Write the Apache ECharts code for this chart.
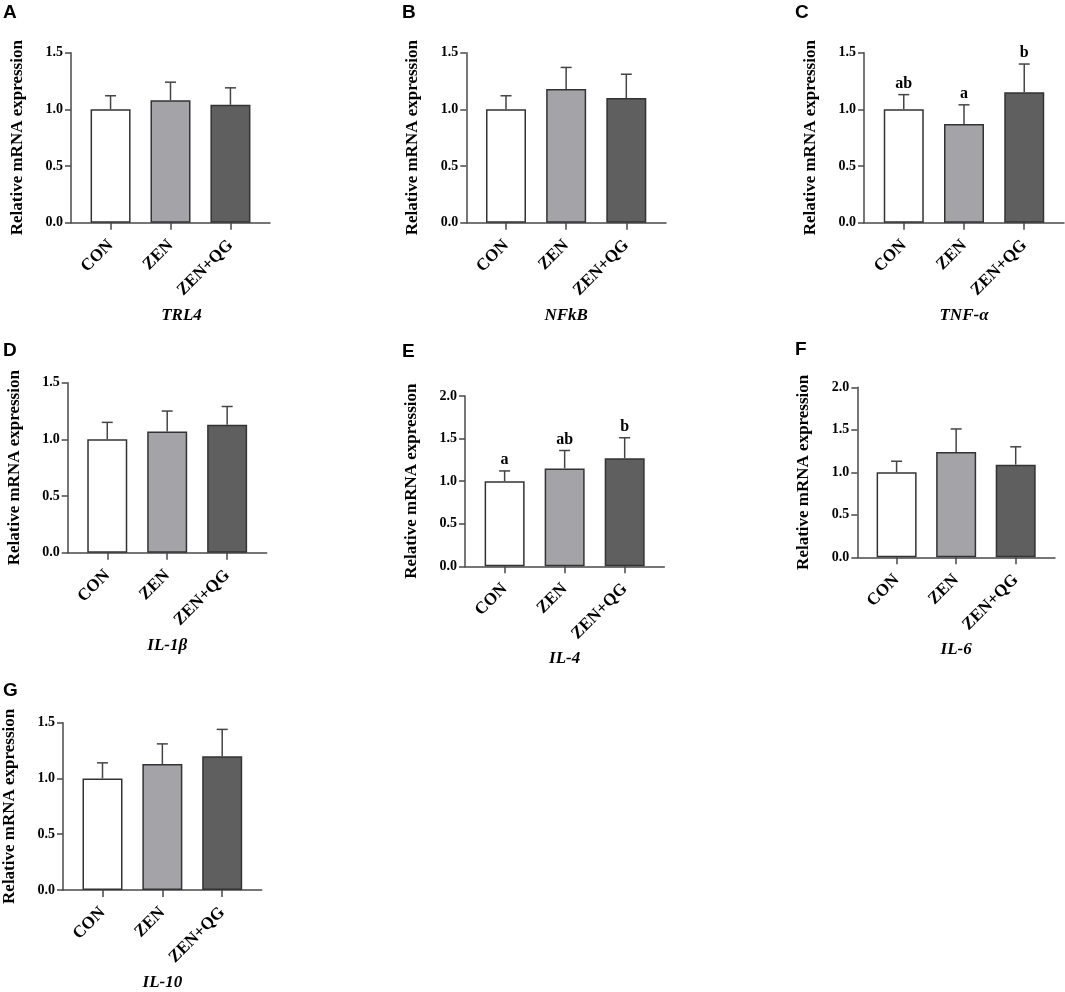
<!DOCTYPE html>
<html>
<head>
<meta charset="utf-8">
<script src="https://cdn.jsdelivr.net/npm/echarts@6/dist/echarts.min.js"></script>
<style>
  html, body { margin: 0; padding: 0; background: #fff; }
  #chart { width: 1065px; height: 992px; }
</style>
</head>
<body>
<div id="chart"></div>
<script>
// groups and colours
var groups = ['CON', 'ZEN', 'ZEN+QG'];
var barColors = ['#ffffff', '#a4a3a8', '#5f5f5f'];

// gene names / panel letters
var genes = ['TRL4', 'NFkB', 'TNF-α', 'IL-1β', 'IL-4', 'IL-6', 'IL-10'];
var letters = ['A', 'B', 'C', 'D', 'E', 'F', 'G'];

// mean values
var meanTRL4 = [1.00, 1.08, 1.04];
var meanNFkB = [1.00, 1.18, 1.10];
var meanTNF  = [1.00, 0.87, 1.15];
var meanIL1b = [1.00, 1.07, 1.13];
var meanIL4  = [1.00, 1.15, 1.27];
var meanIL6  = [1.00, 1.24, 1.09];
var meanIL10 = [1.00, 1.13, 1.20];

// SD (upper error bar)
var sdTRL4 = [0.12, 0.16, 0.15];
var sdNFkB = [0.12, 0.19, 0.21];
var sdTNF  = [0.13, 0.17, 0.25];
var sdIL1b = [0.15, 0.18, 0.16];
var sdIL4  = [0.12, 0.21, 0.24];
var sdIL6  = [0.13, 0.27, 0.21];
var sdIL10 = [0.14, 0.18, 0.24];

// significance letters
var sigTNF = ['ab', 'a', 'b'];
var sigIL4 = ['a', 'ab', 'b'];

// y axis max per panel
var yMax = [1.5, 1.5, 1.5, 1.5, 2.0, 2.0, 1.5];

var means = [meanTRL4, meanNFkB, meanTNF, meanIL1b, meanIL4, meanIL6, meanIL10];
var sds = [sdTRL4, sdNFkB, sdTNF, sdIL1b, sdIL4, sdIL6, sdIL10];
var sigs = [null, null, sigTNF, null, sigIL4, null, null];

// layout of each panel: grid box + letter position
var panels = [
    {left: 71,    top: 52.7,  width: 199,   height: 170,   lx: 3,   ly: 12.5},
    {left: 466.3, top: 52.7,  width: 199.7, height: 170,   lx: 402, ly: 12.5},
    {left: 864,   top: 52.7,  width: 200,   height: 170,   lx: 795, ly: 12.5},
    {left: 67.7,  top: 382.7, width: 199,   height: 170,   lx: 3,   ly: 351},
    {left: 465,   top: 396,   width: 199.3, height: 170.3, lx: 402, ly: 351.5},
    {left: 857.3, top: 387.3, width: 197.7, height: 170,   lx: 795, ly: 350},
    {left: 61.7,  top: 722.7, width: 200,   height: 169.6, lx: 3,   ly: 691}
];

var serif = '"Liberation Serif", "Times New Roman", serif';
var axisCol = '#4a4a4a';

function errRender(sig) {
    return function (params, api) {
        var x = api.value(0), m = api.value(1), s = api.value(2);
        var p0 = api.coord([x, m]);
        var p1 = api.coord([x, m + s]);
        var children = [
            {type: 'line', shape: {x1: p0[0], y1: p0[1], x2: p1[0], y2: p1[1]},
             style: {stroke: '#444', lineWidth: 1.5}},
            {type: 'line', shape: {x1: p1[0] - 5.5, y1: p1[1], x2: p1[0] + 5.5, y2: p1[1]},
             style: {stroke: '#444', lineWidth: 1.5}}
        ];
        if (sig) {
            children.push({type: 'text', x: p1[0], y: p1[1] - 11,
                style: {text: sig[params.dataIndex], font: 'bold 16px ' + serif,
                        fill: '#000', align: 'center', verticalAlign: 'middle'}});
        }
        return {type: 'group', children: children};
    };
}

var grid = [], xAxis = [], yAxis = [], series = [], graphic = [];

panels.forEach(function (p, k) {
    grid.push({left: p.left, top: p.top, width: p.width, height: p.height});
    xAxis.push({
        type: 'value', gridIndex: k, min: -0.66, max: 2.66,
        splitLine: {show: false},
        axisLine: {onZero: false, lineStyle: {color: axisCol, width: 1.5}},
        axisTick: {customValues: [0, 1, 2], length: 7, lineStyle: {color: axisCol, width: 1.5}},
        axisLabel: {
            customValues: [0, 1, 2], rotate: 45, margin: 20,
            formatter: function (v) { return groups[Math.round(v)]; },
            color: '#000', fontFamily: serif, fontWeight: 'bold', fontSize: 17
        },
        name: genes[k], nameLocation: 'middle', nameGap: 84,
        nameTextStyle: {
            color: '#000', fontFamily: serif, fontWeight: 'bold', fontStyle: 'italic', fontSize: 17,
            padding: k === 0 ? [0, 0, 0, 22] : 0
        }
    });
    yAxis.push({
        type: 'value', gridIndex: k, min: 0, max: yMax[k], interval: 0.5,
        splitLine: {show: false},
        axisLine: {show: true, onZero: false, lineStyle: {color: axisCol, width: 1.5}},
        axisTick: {show: true, length: 6, lineStyle: {color: axisCol, width: 1.5}},
        axisLabel: {
            margin: 8, color: '#000', fontFamily: serif, fontWeight: 'bold', fontSize: 14,
            formatter: function (v) { return v.toFixed(1); }
        },
        name: 'Relative mRNA expression', nameLocation: 'middle', nameGap: 45,
        nameTextStyle: {color: '#000', fontFamily: serif, fontWeight: 'bold', fontSize: 17}
    });
    series.push({
        type: 'bar', xAxisIndex: k, yAxisIndex: k, barWidth: 40,
        data: means[k].map(function (v, i) {
            return {value: [i, v], itemStyle: {color: barColors[i]}};
        }),
        itemStyle: {borderColor: '#333', borderWidth: 1.5},
        silent: true
    });
    series.push({
        type: 'custom', xAxisIndex: k, yAxisIndex: k, z: 5,
        renderItem: errRender(sigs[k]),
        data: means[k].map(function (v, i) { return [i, v, sds[k][i]]; }),
        silent: true
    });
    graphic.push({
        type: 'text', x: p.lx, y: p.ly,
        style: {text: letters[k], font: 'bold 19px "Liberation Sans", Arial, sans-serif',
                fill: '#000', verticalAlign: 'middle'}
    });
});

var chart = echarts.init(document.getElementById('chart'));
chart.setOption({
    animation: false,
    grid: grid,
    xAxis: xAxis,
    yAxis: yAxis,
    series: series,
    graphic: graphic
});
</script>
</body>
</html>
